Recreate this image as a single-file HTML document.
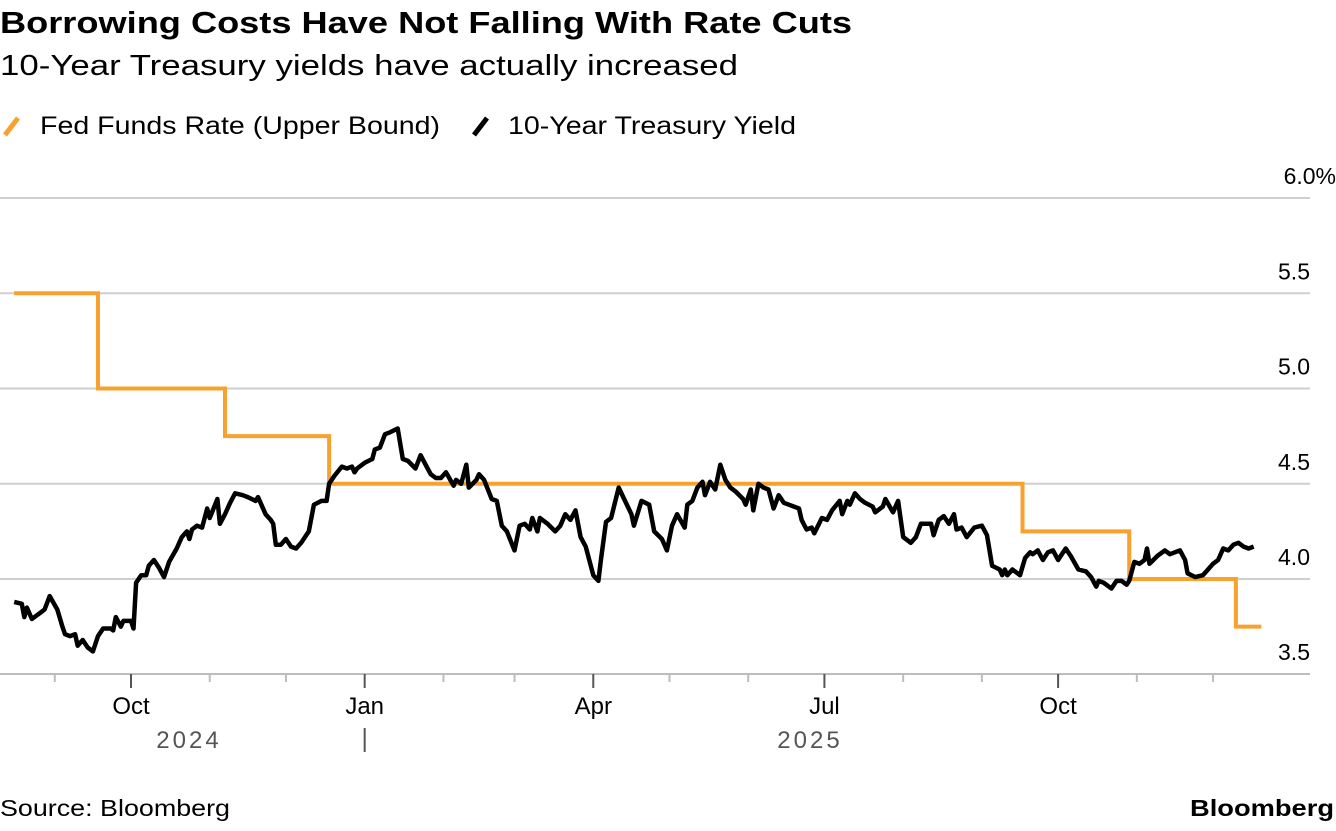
<!DOCTYPE html>
<html><head><meta charset="utf-8"><style>
body{margin:0;background:#fff;font-family:"Liberation Sans",Arial,sans-serif;}
svg text{font-family:"Liberation Sans",Arial,sans-serif;}
</style></head><body>
<svg width="1336" height="826" viewBox="0 0 1336 826">
<text x="0" y="33" font-size="31" font-weight="bold" fill="#000" textLength="852" lengthAdjust="spacingAndGlyphs">Borrowing Costs Have Not Falling With Rate Cuts</text>
<text x="0" y="75" font-size="29" fill="#000" textLength="738" lengthAdjust="spacingAndGlyphs">10-Year Treasury yields have actually increased</text>
<g>
<line x1="5" y1="135" x2="18" y2="118" stroke="#f9a12e" stroke-width="5"/>
<text x="40" y="134" font-size="25" fill="#000" textLength="400" lengthAdjust="spacingAndGlyphs">Fed Funds Rate (Upper Bound)</text>
<line x1="474" y1="135" x2="487" y2="118" stroke="#000" stroke-width="5"/>
<text x="508" y="134" font-size="25" fill="#000" textLength="288" lengthAdjust="spacingAndGlyphs">10-Year Treasury Yield</text>
</g>
<g id="grid"></g><g id="xaxis"></g><g id="series"></g>
<text x="0" y="816" font-size="23" fill="#000" textLength="230" lengthAdjust="spacingAndGlyphs">Source: Bloomberg</text>
<text x="1190" y="816" font-size="23" font-weight="bold" fill="#000" textLength="144" lengthAdjust="spacingAndGlyphs">Bloomberg</text>
</svg>
<script>
const yTicks=[4.0,4.5,5.0,5.5,6.0];
const yTickLabels=["4.0","4.5","5.0","5.5","6.0%"];
const monthTickDays=[-30,0,31,61,92,123,151,182,212,243,273,304,335,365,396,426];
const monthLabelDays=[0,92,182,273,365];
const monthLabels=["Oct","Jan","Apr","Jul","Oct"];
const fedDays=[-46,-13,37,78,351,393,435,445];
const fedRates=[5.5,5.0,4.75,4.5,4.25,4.0,3.75,3.75];
const tyDays=[-46,-43,-42,-41,-39,-36,-34,-32,-29,-27,-26,-24,-22,-21,-19,-17,-15,-13,-11,-8,-7,-6,-4,-3,0,1,2,4,6,7,9,11,13,15,18,20,22,23,24,26,28,30,31,34,35,37,39,41,44,46,49,50,53,55,56,57,59,61,63,65,67,70,72,75,77,78,80,83,85,87,88,89,92,95,96,98,100,102,105,107,109,112,114,116,118,120,122,124,127,128,130,132,133,136,137,139,142,144,146,148,151,153,155,157,158,160,161,164,167,169,171,173,175,177,179,182,184,185,187,189,192,197,198,201,204,206,209,211,213,215,218,219,221,223,225,226,228,230,232,234,236,238,241,242,244,245,247,249,251,253,255,257,259,263,264,266,268,269,272,274,276,279,280,282,283,285,287,289,292,293,296,297,300,302,304,307,309,311,315,316,318,320,322,324,325,327,329,332,335,337,339,342,343,344,345,347,350,352,354,355,357,359,361,363,365,366,368,370,373,376,378,380,381,383,386,388,390,392,393,395,397,399,400,401,404,407,409,411,413,415,416,419,422,424,426,428,430,432,434,436,438,440,442];
const tyYields=[3.88,3.87,3.80,3.85,3.79,3.82,3.84,3.91,3.84,3.75,3.71,3.70,3.71,3.65,3.68,3.64,3.62,3.70,3.74,3.74,3.73,3.80,3.75,3.78,3.78,3.74,3.98,4.02,4.02,4.07,4.10,4.06,4.01,4.09,4.16,4.22,4.25,4.21,4.26,4.28,4.27,4.37,4.32,4.42,4.29,4.34,4.40,4.45,4.44,4.43,4.41,4.43,4.34,4.31,4.29,4.18,4.18,4.21,4.17,4.16,4.19,4.25,4.39,4.41,4.41,4.50,4.54,4.59,4.58,4.59,4.56,4.58,4.61,4.63,4.68,4.69,4.76,4.77,4.79,4.63,4.62,4.58,4.65,4.60,4.55,4.53,4.53,4.56,4.49,4.52,4.50,4.60,4.48,4.52,4.55,4.52,4.42,4.41,4.28,4.25,4.15,4.28,4.29,4.26,4.32,4.25,4.32,4.29,4.25,4.28,4.34,4.31,4.36,4.22,4.17,4.02,3.99,4.10,4.30,4.32,4.48,4.34,4.28,4.41,4.39,4.25,4.21,4.15,4.28,4.34,4.27,4.39,4.41,4.48,4.51,4.44,4.51,4.47,4.60,4.52,4.48,4.46,4.42,4.39,4.47,4.36,4.50,4.48,4.47,4.37,4.44,4.40,4.39,4.37,4.31,4.26,4.27,4.24,4.32,4.31,4.36,4.41,4.34,4.41,4.39,4.45,4.42,4.40,4.38,4.35,4.38,4.42,4.35,4.41,4.22,4.19,4.22,4.29,4.29,4.23,4.31,4.33,4.29,4.34,4.26,4.27,4.22,4.27,4.28,4.23,4.07,4.05,4.02,4.05,4.02,4.05,4.02,4.11,4.14,4.13,4.15,4.10,4.14,4.15,4.10,4.12,4.16,4.12,4.05,4.04,4.01,3.96,3.99,3.98,3.95,3.99,3.99,3.97,3.99,4.09,4.08,4.10,4.16,4.08,4.12,4.15,4.13,4.14,4.15,4.10,4.03,4.01,4.02,4.05,4.08,4.10,4.16,4.15,4.18,4.19,4.17,4.16,4.17];

const NS='http://www.w3.org/2000/svg';
function X(d){return 131+d*2.54;}
function Y(v){return 579-(v-4.0)*190.5;}
function mk(tag,attrs,parent){const e=document.createElementNS(NS,tag);for(const k in attrs)e.setAttribute(k,attrs[k]);parent.appendChild(e);return e;}
const grid=document.getElementById('grid'),xa=document.getElementById('xaxis'),ser=document.getElementById('series');
yTicks.forEach((v,i)=>{
 const l=mk('line',{x1:0,x2:1310,y1:Y(v),y2:Y(v),stroke:'#cfcfcf','stroke-width':2},grid);
 
 
 const t=mk('text',{x:1310,y:Y(v)-14,'font-size':23,'text-anchor':'end',fill:'#000'},grid);
 if(i===yTicks.length-1)t.setAttribute('x',1336);
 t.textContent=yTickLabels[i];
 
 
});
const t35=mk('text',{x:1310,y:660,'font-size':23,'text-anchor':'end',fill:'#000'},grid);
t35.textContent="3.5";


const ax=mk('line',{x1:0,x2:1310,y1:674,y2:674,stroke:'#bdbdbd','stroke-width':2},xa);


monthTickDays.forEach(d=>{
 const major=monthLabelDays.includes(d);
 const tk=mk('line',{x1:X(d),x2:X(d),y1:674,y2:major?688:682,stroke:major?'#555':'#bdbdbd','stroke-width':2},xa);
 
 
});
monthLabelDays.forEach((d,i)=>{
 const t=mk('text',{x:X(d),y:714,'font-size':24,'text-anchor':'middle',fill:'#000'},xa);
 t.textContent=monthLabels[i];
 
 
});
const y1=mk('text',{x:189,y:748,'font-size':24,'text-anchor':'middle',fill:'#555','letter-spacing':'3'},xa);
y1.textContent="2024";


const y2=mk('text',{x:810,y:748,'font-size':24,'text-anchor':'middle',fill:'#555','letter-spacing':'3'},xa);
y2.textContent="2025";


const ys=mk('line',{x1:X(92),x2:X(92),y1:728,y2:752,stroke:'#555','stroke-width':2},xa);


let fp='';
fedDays.forEach((d,i)=>{
 if(i===0)fp+='M'+X(d)+','+Y(fedRates[i]);
 else fp+=' L'+X(d)+','+Y(fedRates[i-1])+' L'+X(d)+','+Y(fedRates[i]);
});
const fl=mk('path',{d:fp,fill:'none',stroke:'#f9a12e','stroke-width':4},ser);


let tp=tyDays.map((d,i)=>(i?'L':'M')+X(d).toFixed(1)+','+Y(tyYields[i]).toFixed(1)).join(' ');
const tl=mk('path',{d:tp,fill:'none',stroke:'#000','stroke-width':4.5,'stroke-linejoin':'round'},ser);


</script>
</body></html>
